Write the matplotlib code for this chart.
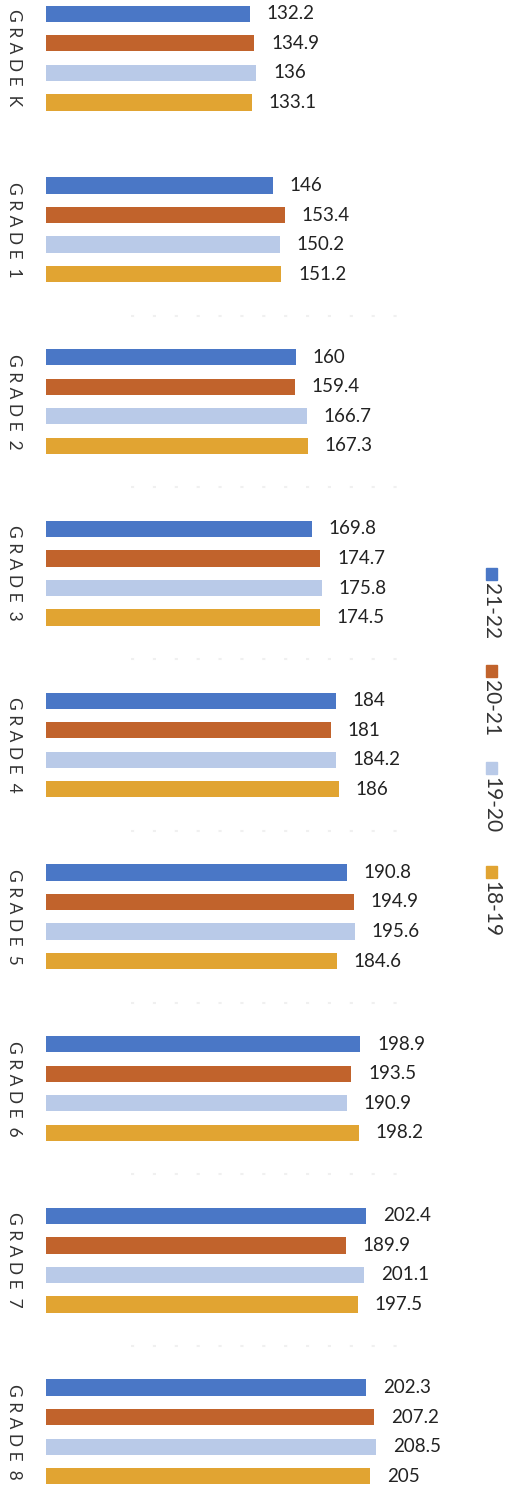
import matplotlib.pyplot as plt
import matplotlib.transforms as mtransforms
from matplotlib.patches import Rectangle
import numpy as np

plt.rcParams['font.family'] = ['Lato', 'DejaVu Sans']

grades = ['GRADE K', 'GRADE 1', 'GRADE 2', 'GRADE 3', 'GRADE 4',
          'GRADE 5', 'GRADE 6', 'GRADE 7', 'GRADE 8']
years = ['21-22', '20-21', '19-20', '18-19']

v_2122 = [132.2, 146, 160, 169.8, 184, 190.8, 198.9, 202.4, 202.3]
v_2021 = [134.9, 153.4, 159.4, 174.7, 181, 194.9, 193.5, 189.9, 207.2]
v_1920 = [136, 150.2, 166.7, 175.8, 184.2, 195.6, 190.9, 201.1, 208.5]
v_1819 = [133.1, 151.2, 167.3, 174.5, 186, 184.6, 198.2, 197.5, 205]

series = [v_2122, v_2021, v_1920, v_1819]
colors = ['#4a77c6', '#c1632c', '#b9cae8', '#e1a432']

W, H = 508, 1485
fig = plt.figure(figsize=(W / 100, H / 100), dpi=100)
ax = fig.add_axes([46 / W, 0, 1 - 46 / W, 1])

slot = 0.172
bar_h = 0.095
y0 = np.arange(len(grades))

# faint dotted separators between the grade blocks
for yb in y0[1:-1] + 0.5:
    ax.plot([60, 230], [yb, yb], ls=(0, (1.5, 9)), lw=1.5, color='#f0f0f0')

for j, (vals, c) in enumerate(zip(series, colors)):
    ys = y0 + (j - 1.5) * slot
    ax.barh(ys, vals, height=bar_h, color=c, edgecolor='none')
    for y, v in zip(ys, vals):
        ax.annotate(f'{v:g}', xy=(v, y), xytext=(12, 0),
                    textcoords='offset points', va='center', ha='left',
                    fontsize=13.5, color='#222222')

ax.set_xlim(8.9, 288.1)
ax.set_ylim(8.309, -0.338)
ax.axis('off')

# grade names down the left side
trans = mtransforms.blended_transform_factory(fig.transFigure, ax.transData)
for y, g in zip(y0, grades):
    name, num = g.split(' ')
    spaced = ' '.join(name) + '  ' + num
    ax.text(14 / W, y, spaced, transform=trans, rotation=-90,
            ha='center', va='center', fontsize=12.5, color='#333333')

# legend, turned on its side at the right
mark_top = [568, 665, 762, 866]
for top, lab, c in zip(mark_top, years, colors):
    fig.patches.append(Rectangle((486 / W, 1 - (top + 12) / H), 11 / W, 12 / H,
                                 transform=fig.transFigure, color=c))
    fig.text(491 / W, 1 - (top + 15) / H, lab, rotation=-90,
             ha='center', va='top', fontsize=15, color='#333333')

fig.savefig('out.png', dpi=100, facecolor='white')
